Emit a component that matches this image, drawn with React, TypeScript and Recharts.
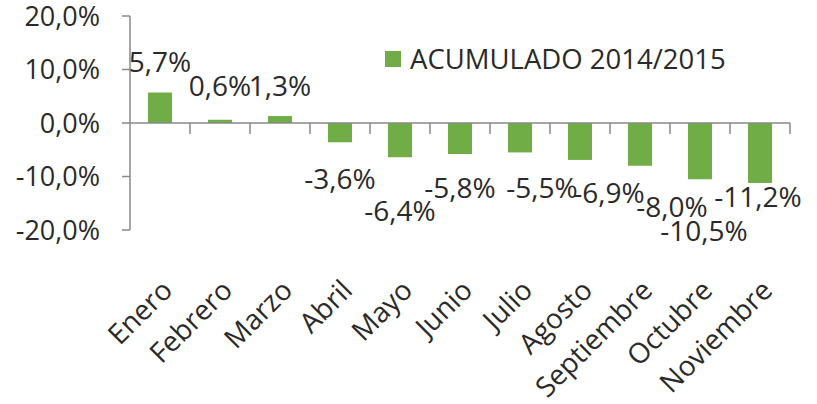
import React from "react";
import {
  BarChart,
  Bar,
  XAxis,
  YAxis,
  Legend,
  LabelList,
  ReferenceLine,
} from "recharts";

const MESES = [
  "Enero",
  "Febrero",
  "Marzo",
  "Abril",
  "Mayo",
  "Junio",
  "Julio",
  "Agosto",
  "Septiembre",
  "Octubre",
  "Noviembre",
];
const ACUMULADO = [5.7, 0.6, 1.3, -3.6, -6.4, -5.8, -5.5, -6.9, -8.0, -10.5, -11.2];
const Y_TICKS = [-20, -10, 0, 10, 20];
const SERIE = "ACUMULADO 2014/2015";

// label nudges (Excel moved some labels around to avoid overlaps)
const LABEL_SHIFT: [number, number][] = [
  [0, -31], [0, -34], [0, -30], [0, 37], [0, 54], [0, 34],
  [22, 36], [29, 33], [32, 41], [4, 52], [-2, 14],
];

const GREEN = "#70ad47";
const GRAY = "#898989";
const TEXT = "#2a2a2a";
const FONT = "'Open Sans', sans-serif";

const data = MESES.map((mes, i) => ({ mes, valor: ACUMULADO[i] }));

const pct = (v: number) => v.toFixed(1).replace(".", ",") + "%";

function ZeroLine(props: any) {
  const { x1, y1, x2 } = props;
  const n = MESES.length;
  const step = (x2 - x1) / n;
  return (
    <g>
      <line x1={x1} y1={y1} x2={x2} y2={y1} stroke={GRAY} strokeWidth={1.5} />
      {Array.from({ length: n }, (_, k) => (
        <line
          key={k}
          x1={x1 + step * (k + 1)}
          x2={x1 + step * (k + 1)}
          y1={y1}
          y2={y1 + 11}
          stroke={GRAY}
          strokeWidth={1.5}
        />
      ))}
    </g>
  );
}

function ValueLabel(props: any) {
  const { x, y, width, height, value, index } = props;
  const end = value >= 0 ? Math.min(y, y + height) : Math.max(y, y + height);
  const [dx, dy] = LABEL_SHIFT[index] ?? [0, 0];
  return (
    <text
      x={x + width / 2 + dx}
      y={end + dy + 10}
      textAnchor="middle"
      fill={TEXT}
      fontSize={28}
      fontFamily={FONT}
    >
      {pct(value)}
    </text>
  );
}

function LegendBox() {
  return (
    <div style={{ display: "flex", alignItems: "center", fontFamily: FONT }}>
      <span style={{ width: 16, height: 16, background: GREEN, display: "inline-block" }} />
      <span style={{ marginLeft: 9, fontSize: 27.5, color: TEXT, lineHeight: "30px" }}>{SERIE}</span>
    </div>
  );
}

export default function App() {
  return (
    <div style={{ position: "absolute", left: 0, top: 0, background: "#fff" }}>
      <BarChart
        width={817}
        height={404}
        data={data}
        margin={{ top: 16, right: 27, bottom: 0, left: 0 }}
        style={{ fontFamily: FONT }}
      >
        <YAxis
          domain={[-20, 20]}
          ticks={Y_TICKS}
          width={130}
          tickFormatter={pct}
          tickSize={8}
          tickMargin={22}
          axisLine={{ stroke: GRAY, strokeWidth: 1.5 }}
          tickLine={{ stroke: GRAY, strokeWidth: 1.5 }}
          tick={{ fill: TEXT, fontSize: 27, fontFamily: FONT }}
        />
        <XAxis
          dataKey="mes"
          height={174}
          interval={0}
          axisLine={false}
          tickLine={false}
          tickSize={0}
          tickMargin={48}
          tick={{
            fill: TEXT,
            fontSize: 28,
            fontFamily: FONT,
            angle: -45,
            textAnchor: "end",
            verticalAnchor: "start",
          }}
        />
        <ReferenceLine y={0} shape={ZeroLine} />
        <Legend
          layout="horizontal"
          verticalAlign="middle"
          align="center"
          content={() => <LegendBox />}
          wrapperStyle={{ left: 385, top: 44, width: "auto" }}
        />
        <Bar dataKey="valor" name={SERIE} fill={GREEN} barSize={24} isAnimationActive={false}>
          <LabelList dataKey="valor" content={ValueLabel} />
        </Bar>
      </BarChart>
    </div>
  );
}
